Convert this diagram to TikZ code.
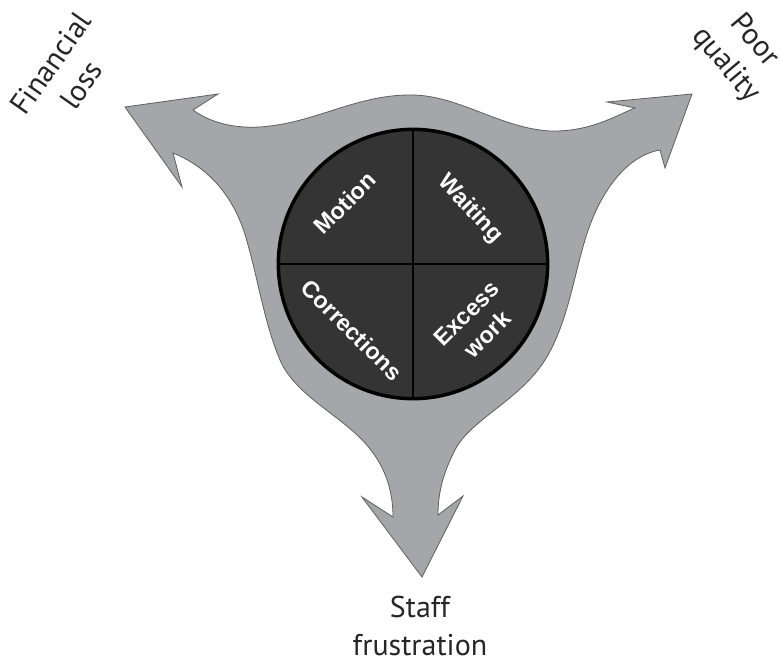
\documentclass[tikz,border=0pt]{standalone}
\usepackage{fontspec}
\setmainfont{PT Sans}
\newfontfamily\wastefont{Liberation Sans}
\definecolor{flowgray}{RGB}{165,166,169}
\definecolor{flowedge}{RGB}{95,95,98}
\definecolor{hubfill}{RGB}{52,52,52}
\begin{document}
\begin{tikzpicture}[x=0.75pt,y=-0.75pt,
  outcome/.style={font=\fontsize{22.5}{28}\selectfont, text=black!85, align=center, inner sep=0pt},
  waste/.style={font=\wastefont\bfseries\fontsize{17.5}{22}\selectfont, text=white, align=center, inner sep=0pt},
  hubstyle/.style={circle, draw=black, line width=2.6pt, fill=hubfill, minimum size=202pt, inner sep=0pt},
  divider/.style={draw=black, line width=2.2pt}
  ]
\useasboundingbox (0,0) rectangle (782,662);

% three-pronged grey flow shape
\filldraw[fill=flowgray, draw=flowedge, line width=0.6pt, line join=miter]
  (125,107) -- (218,94) -- (193,110)
  .. controls (212,124) and (240,130) .. (270,126)
  .. controls (320,120) and (360,94) .. (413,95)
  .. controls (460,96) and (500,128) .. (550,131)
  .. controls (590,132) and (615,116) .. (635,108)
  -- (607,102) -- (692,94) -- (665,168) -- (660,150)
  .. controls (630,155) and (605,185) .. (590,225)
  .. controls (575,265) and (570,320) .. (545,360)
  .. controls (520,400) and (470,420) .. (455,450)
  .. controls (442,475) and (438,495) .. (438,515)
  -- (463,496) -- (422,577) -- (362,497) -- (393,517)
  .. controls (393,490) and (385,465) .. (365,443)
  .. controls (340,415) and (295,395) .. (280,360)
  .. controls (265,325) and (258,280) .. (248,245)
  .. controls (238,205) and (215,170) .. (173,153)
  -- (182,187) -- cycle;

% central disc split into four quadrants
\node[hubstyle] (hub) at (413,264) {};
\draw[divider] (hub.north) -- (hub.south);
\draw[divider] (hub.west) -- (hub.east);

\node[waste, rotate=45] (motion) at (345,203) {Motion};
\node[waste, rotate=-47] (waiting) at (470,209) {Waiting};
\node[waste, rotate=-45] (corrections) at (352,330) {Corrections};
\node[waste, rotate=45] (excess) at (477,324) {Excess\\work};

% outcomes at the arrow tips
\node[outcome, rotate=55] (loss) at (66,74) {Financial\\loss};
\node[outcome, rotate=-50] (quality) at (740,53) {Poor\\quality};
\node[outcome] (staff) at (420,626) {Staff\\frustration};
\end{tikzpicture}
\end{document}
